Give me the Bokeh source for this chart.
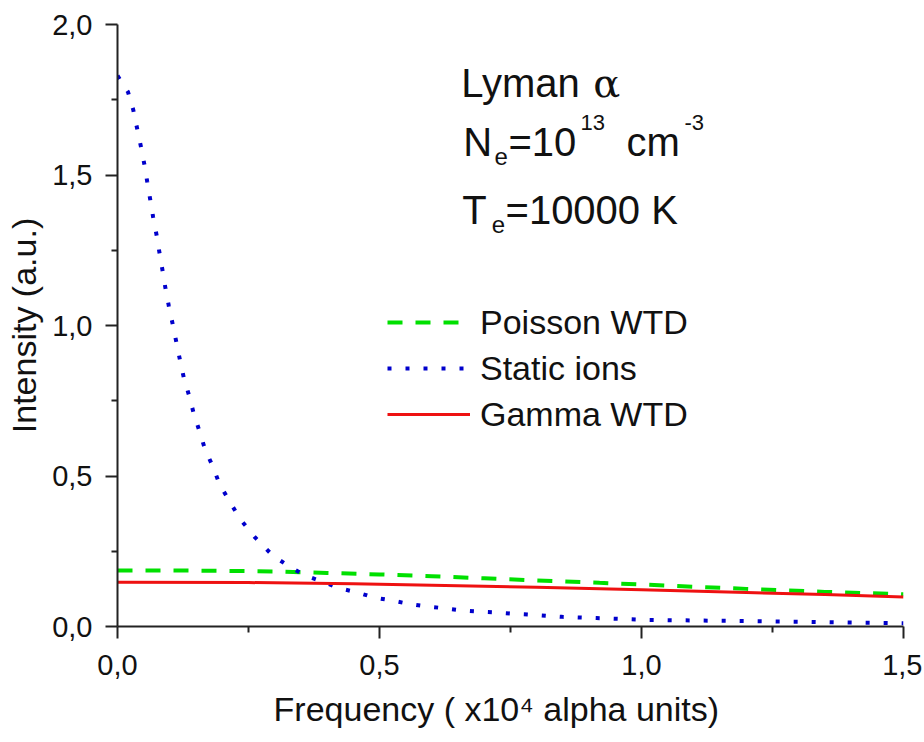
from bokeh.plotting import figure
from bokeh.models import Range1d, FixedTicker, Legend, LegendItem, Label
from bokeh.embed import file_html
from bokeh.resources import INLINE

# ---- data ----
static_x = [0.0, 0.02, 0.03, 0.0375, 0.0445, 0.051, 0.0567, 0.0624, 0.068, 0.0744,
            0.080, 0.0859, 0.0916, 0.098, 0.105, 0.112, 0.119, 0.1265, 0.136, 0.145,
            0.156, 0.167, 0.181, 0.195, 0.214, 0.235, 0.263, 0.296, 0.328, 0.359,
            0.391, 0.426, 0.458, 0.490, 0.525, 0.556, 0.589, 0.621, 0.653, 0.686,
            0.718, 0.751, 0.783, 0.817, 0.849, 0.881, 0.914, 0.947, 0.979, 1.011,
            1.1, 1.2, 1.3, 1.4, 1.5]
static_y = [1.83, 1.776, 1.717, 1.654, 1.596, 1.538, 1.478, 1.419, 1.360, 1.302,
            1.243, 1.183, 1.123, 1.064, 1.007, 0.947, 0.887, 0.827, 0.771, 0.711,
            0.651, 0.589, 0.535, 0.472, 0.415, 0.355, 0.295, 0.236, 0.199, 0.169,
            0.149, 0.126, 0.113, 0.096, 0.086, 0.075, 0.067, 0.061, 0.054, 0.050,
            0.047, 0.043, 0.040, 0.036, 0.032, 0.030, 0.028, 0.026, 0.024, 0.022,
            0.020, 0.018, 0.016, 0.013, 0.011]

poisson_x = [0.0, 0.1, 0.2, 0.3, 0.4, 0.5, 0.6, 0.7, 0.8, 0.92, 1.0, 1.1, 1.2, 1.35, 1.5]
poisson_y = [0.186, 0.186, 0.185, 0.183, 0.178, 0.173, 0.167, 0.160, 0.153, 0.145,
             0.140, 0.132, 0.125, 0.115, 0.107]

gamma_x = [0.0, 0.25, 0.45, 0.6, 0.8, 1.0, 1.2, 1.35, 1.5]
gamma_y = [0.147, 0.146, 0.142, 0.137, 0.130, 0.122, 0.113, 0.106, 0.098]

x_ticks = [0.0, 0.5, 1.0, 1.5]
x_minor = [0.25, 0.75, 1.25]
y_ticks = [0.0, 0.5, 1.0, 1.5, 2.0]
y_minor = [0.25, 0.75, 1.25, 1.75]
x_tick_labels = ["0,0", "0,5", "1,0", "1,5"]
y_tick_labels = ["0,0", "0,5", "1,0", "1,5", "2,0"]

series_names = ["Poisson WTD", "Static ions", "Gamma WTD"]

FONT = "Liberation Sans"
TXT = "#111111"

p = figure(width=922, height=740, output_backend="svg", toolbar_location=None,
           x_range=Range1d(0, 1.5), y_range=Range1d(0, 2.0),
           min_border_left=117, min_border_right=19, min_border_top=24,
           min_border_bottom=114)
p.grid.visible = False
p.outline_line_color = None
p.background_fill_color = "white"
p.border_fill_color = "white"

p.xaxis.ticker = FixedTicker(ticks=x_ticks, minor_ticks=x_minor)
p.yaxis.ticker = FixedTicker(ticks=y_ticks, minor_ticks=y_minor)
p.xaxis.major_label_overrides = dict(zip(x_ticks, x_tick_labels))
p.yaxis.major_label_overrides = dict(zip(y_ticks, y_tick_labels))

p.xaxis.axis_label = "Frequency ( x10\u2074 alpha units)\u00a0\u00a0\u00a0"
p.yaxis.axis_label = "Intensity (a.u.)"

for ax in (p.xaxis[0], p.yaxis[0]):
    ax.axis_line_width = 2
    ax.axis_line_color = "#222222"
    ax.major_tick_line_width = 2
    ax.major_tick_line_color = "#222222"
    ax.minor_tick_line_width = 2
    ax.minor_tick_line_color = "#222222"
    ax.major_tick_in = 0
    ax.major_tick_out = 12
    ax.minor_tick_in = 0
    ax.minor_tick_out = 6
    ax.major_label_text_font = FONT
    ax.major_label_text_font_size = "29px"
    ax.major_label_text_color = TXT
    ax.axis_label_text_font = FONT
    ax.axis_label_text_font_size = "34px"
    ax.axis_label_text_font_style = "normal"
    ax.axis_label_text_color = TXT
p.xaxis.major_label_standoff = 16
p.yaxis.major_label_standoff = 13
p.xaxis.axis_label_standoff = 12
p.yaxis.axis_label_standoff = 6

r_p = p.line(poisson_x, poisson_y, line_color="#00E000", line_width=4, line_dash="15 13")
r_s = p.line(static_x, static_y, line_color="#0000CC", line_width=4, line_dash="4 14")
r_g = p.line(gamma_x, gamma_y, line_color="#EE1111", line_width=3)

legend = Legend(items=[LegendItem(label=series_names[0], renderers=[r_p]),
                       LegendItem(label=series_names[1], renderers=[r_s]),
                       LegendItem(label=series_names[2], renderers=[r_g])],
                location=(270, 189), glyph_width=83, glyph_height=46, label_height=46,
                spacing=0, padding=0, margin=0, label_standoff=10,
                label_text_font=FONT, label_text_font_size="34px", label_text_color=TXT,
                border_line_color=None, background_fill_alpha=0)
p.add_layout(legend, "center")

DY = 0.053  # baseline correction for Label rendering

def lab(x, y, text, size, font=FONT):
    p.add_layout(Label(x=x, y=y + DY, text=text, text_font=font, text_font_size=size,
                       text_color=TXT, text_baseline="alphabetic", text_align="left"))

lab(0.656, 1.754, "Lyman", "40px")
lab(0.908, 1.754, "\u03b1", "40px", "DejaVu Serif")
lab(0.660, 1.555, "N", "40px")
lab(0.7195, 1.508, "e", "24px")
lab(0.746, 1.555, "=10", "40px")
lab(0.8836, 1.621, "13", "22px")
lab(0.9714, 1.555, "cm", "40px")
lab(1.082, 1.621, "-3", "22px")
lab(0.658, 1.332, "T", "40px")
lab(0.714, 1.282, "e", "24px")
lab(0.7405, 1.332, "=10000 K", "40px")

open("out.html", "w").write(file_html(p, INLINE))
